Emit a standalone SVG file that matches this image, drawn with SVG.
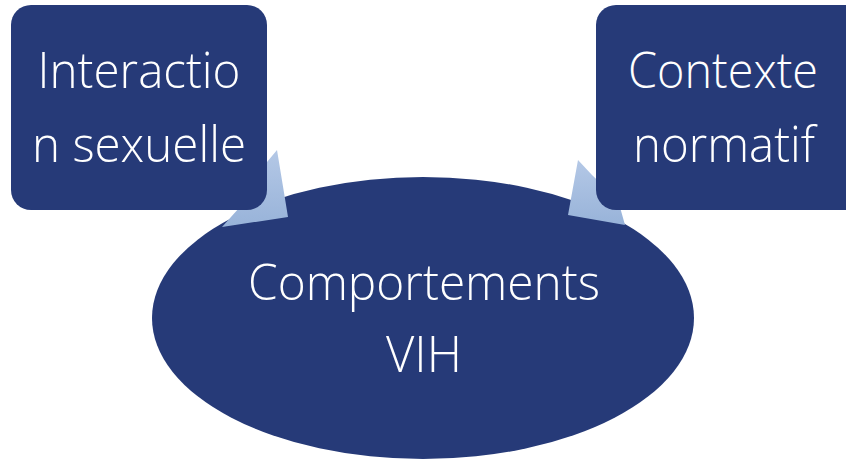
<svg xmlns="http://www.w3.org/2000/svg" width="846" height="461" viewBox="0 0 846 461">
<defs>
<linearGradient id="ag" x1="0" y1="0" x2="0" y2="1">
<stop offset="0" stop-color="#b4c8e6"/>
<stop offset="1" stop-color="#98b3d9"/>
</linearGradient>
<style>
.n{fill:#263a78}
.t{fill:#fff;font-family:"Open Sans","Noto Sans",sans-serif;font-size:49px;font-weight:300;text-anchor:middle}
.a{fill:url(#ag)}
</style>
</defs>
<g id="vih"><ellipse class="n" cx="423" cy="318" rx="271" ry="141"/>
<text class="t" x="424" y="300" textLength="352" lengthAdjust="spacingAndGlyphs">Comportements</text><text class="t" x="424" y="372">VIH</text></g>
<g id="connectors">
<polygon class="a" points="262,168 277,150 288,217 222,227 248,198"/>
<polygon class="a" points="578,160 592,175 618,200 625,225 568,215"/>
</g>
<g id="interaction"><rect class="n" x="11" y="5" width="256" height="205" rx="20"/>
<text class="t" x="139" y="88" textLength="203" lengthAdjust="spacingAndGlyphs">Interactio</text><text class="t" x="139" y="162" textLength="214" lengthAdjust="spacingAndGlyphs">n sexuelle</text></g>
<g id="contexte"><rect class="n" x="596" y="5" width="270" height="205" rx="20"/>
<text class="t" x="723" y="88" textLength="190" lengthAdjust="spacingAndGlyphs">Contexte</text><text class="t" x="724" y="162" textLength="182" lengthAdjust="spacingAndGlyphs">normatif</text></g>
</svg>
